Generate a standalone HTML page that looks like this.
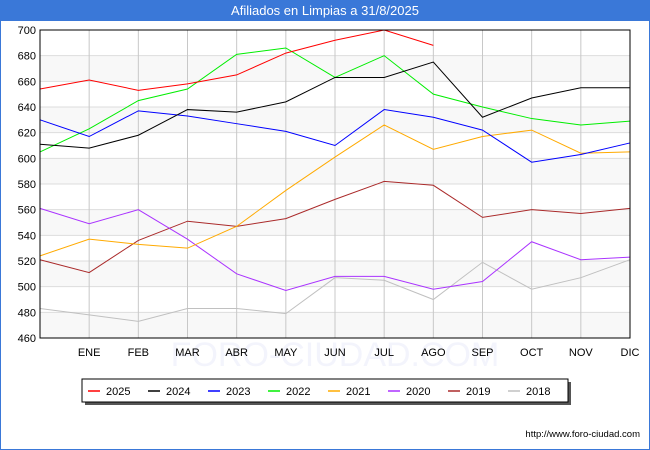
<!DOCTYPE html>
<html><head><meta charset="utf-8"><style>
body{margin:0;width:650px;height:450px;background:#fff;font-family:"Liberation Sans",sans-serif;overflow:hidden;position:relative}
#title{position:absolute;left:0;top:0;width:650px;height:21px;background:#3a78d8;color:#fff;font-size:13px;text-align:center;line-height:21px}
#frame{position:absolute;left:0;top:21px;width:648px;height:428px;border-left:1px solid #3a78d8;border-right:1px solid #3a78d8;border-bottom:1px solid #3a78d8}
svg{position:absolute;left:0;top:0}
</style></head><body>
<div id="frame"></div>
<div id="title">Afiliados en Limpias a 31/8/2025</div>
<svg id="c" width="650" height="450"></svg>
<script>
const months=["","ENE","FEB","MAR","ABR","MAY","JUN","JUL","AGO","SEP","OCT","NOV","DIC"];
const yTicks=[460,480,500,520,540,560,580,600,620,640,660,680,700];
const seriesNames=["2025","2024","2023","2022","2021","2020","2019","2018"];
const seriesColors=["#ff0000","#000000","#0000ff","#00ee00","#ffaa00","#aa33ff","#aa2a2a","#c0c0c0"];
const s2025=[654,661,653,658,665,682,692,700,688];
const s2024=[611,608,618,638,636,644,663,663,675,632,647,655,655];
const s2023=[630,617,637,633,627,621,610,638,632,622,597,603,612];
const s2022=[605,623,645,654,681,686,663,680,650,640,631,626,629];
const s2021=[524,537,533,530,547,575,601,626,607,617,622,604,605];
const s2020=[561,549,560,537,510,497,508,508,498,504,535,521,523];
const s2019=[521,511,536,551,547,553,568,582,579,554,560,557,561];
const s2018=[483,478,473,483,483,479,507,505,490,519,498,507,521];
const allSeries=[s2025,s2024,s2023,s2022,s2021,s2020,s2019,s2018];
const L=40,R=630,T=30,B=338,ymin=460,ymax=700;
const x=i=>L+(R-L)*i/(months.length-1);
const y=v=>B-(v-ymin)*(B-T)/(ymax-ymin);
const svg=document.getElementById('c');const NS="http://www.w3.org/2000/svg";
function mk(t,a,p){const e=document.createElementNS(NS,t);for(const k in a)e.setAttribute(k,a[k]);(p||svg).appendChild(e);return e;}
for(let i=0;i<yTicks.length-1;i++){if(i%2===0){const r=mk('rect',{x:L,y:y(yTicks[i+1]),width:R-L,height:y(yTicks[i])-y(yTicks[i+1]),fill:'#f8f8f8'});

}}
const wm=mk('text',{x:335,y:366,'text-anchor':'middle','font-size':34,fill:'#f3f4fc'});wm.textContent='FORO-CIUDAD.COM';


yTicks.forEach(v=>{const l=mk('line',{x1:L,x2:R,y1:y(v),y2:y(v),stroke:'#dddddd'});


const t=mk('text',{x:L-4,y:y(v)+4,'text-anchor':'end','font-size':11,fill:'#000'});t.textContent=v;

});
months.forEach((m,i)=>{if(i>0){const l=mk('line',{x1:x(i),x2:x(i),y1:T,y2:B,stroke:'#c8c8c8'});


const t=mk('text',{x:x(i),y:B+18,'text-anchor':'middle','font-size':11,fill:'#000'});t.textContent=m;

}});
for(let k=allSeries.length-1;k>=0;k--){const p=mk('polyline',{points:allSeries[k].map((v,i)=>x(i)+','+y(v)).join(' '),fill:'none',stroke:seriesColors[k],'stroke-width':1});

}
const bd=mk('rect',{x:L,y:T,width:R-L,height:B-T,fill:'none',stroke:'#000'});


const g=mk('g',{});


mk('rect',{x:85,y:382,width:486,height:23,fill:'#555'},g);
mk('rect',{x:82,y:379,width:486,height:23,fill:'#fff',stroke:'#000'},g);
seriesNames.forEach((n,k)=>{const lx=88+k*60;
mk('line',{x1:lx,x2:lx+12,y1:391,y2:391,stroke:seriesColors[k],'stroke-width':1.5},g);
const t=mk('text',{x:lx+18,y:395,'font-size':11,fill:'#000'},g);t.textContent=n;

});
const u=mk('text',{x:640,y:437,'text-anchor':'end','font-size':9.5,fill:'#000'});u.textContent='http://www.foro-ciudad.com';


</script>
</body></html>
